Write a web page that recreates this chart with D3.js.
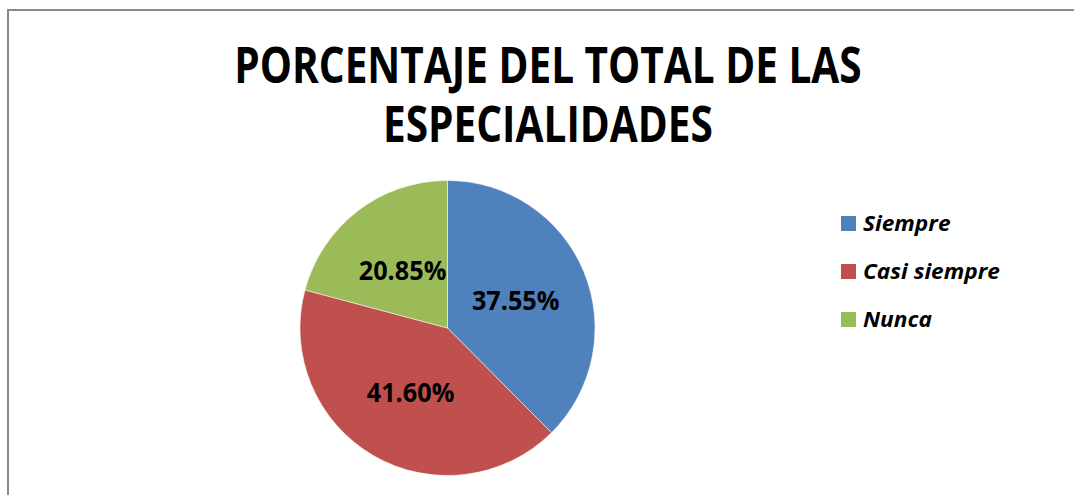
<!DOCTYPE html>
<html>
<head>
<meta charset="utf-8">
<script src="https://cdn.jsdelivr.net/npm/d3@7"></script>
<style>
	html, body { margin: 0; padding: 0; background: #fff; }
	svg { display: block; }
</style>
</head>
<body>
<div id="chart"></div>
<script>
	// Data
	var categories = ['Siempre', 'Casi siempre', 'Nunca'];
	var values = [37.55, 41.60, 20.85];
	var colors = ['#4F81BD', '#C0504D', '#9BBB59'];
	var titleLines = ['PORCENTAJE DEL TOTAL DE LAS', 'ESPECIALIDADES'];

	var width = 1074, height = 495;

	var svg = d3.select('#chart')
		.append('svg')
		.attr('width', width)
		.attr('height', height);

	// Calibri-like narrow look: squeeze text horizontally
	function condense(sel, k) {
		sel.each(function() {
			var w = this.getComputedTextLength();
			d3.select(this)
				.attr('textLength', w * k)
				.attr('lengthAdjust', 'spacingAndGlyphs');
		});
	}

	// Chart border
	svg.append('rect')
		.attr('x', 8)
		.attr('y', 10)
		.attr('width', width + 20)
		.attr('height', height + 20)
		.attr('fill', 'none')
		.attr('stroke', '#8a8a8a')
		.attr('stroke-width', 2);

	// Title (one text, two lines)
	svg.append('text')
		.attr('text-anchor', 'middle')
		.attr('font-family', 'Open Sans')
		.attr('font-weight', 'bold')
		.attr('font-size', 51)
		.attr('fill', '#000')
		.selectAll('tspan')
		.data(titleLines)
		.enter().append('tspan')
			.attr('x', 548)
			.attr('y', function(d, i) { return 83 + i * 59; })
			.text(function(d) { return d; })
			.call(condense, 0.795);

	// Pie
	var radius = 147.5;
	var pie = d3.pie().sort(null).value(function(d) { return d; });
	var arc = d3.arc().innerRadius(0).outerRadius(radius);

	var cont = svg.append('g')
		.attr('transform', 'translate(447.5,328)');

	var slices = cont.selectAll('.slice')
		.data(pie(values))
		.enter().append('g')
			.attr('class', 'slice');

	slices.append('path')
		.attr('d', arc)
		.attr('fill', function(d, i) { return colors[i]; })
		.attr('stroke', '#fff')
		.attr('stroke-width', 0.5);

	slices.append('text')
		.attr('transform', function(d) { return 'translate(' + arc.centroid(d) + ')'; })
		.attr('dy', '0.4em')
		.attr('text-anchor', 'middle')
		.attr('font-family', 'Open Sans')
		.attr('font-weight', 'bold')
		.attr('font-size', 26)
		.attr('fill', '#000')
		.text(function(d) { return d.data.toFixed(2) + '%'; })
		.call(condense, 0.97);

	// Legend
	var legend = svg.append('g')
		.attr('transform', 'translate(841,216)');

	var items = legend.selectAll('.item')
		.data(categories)
		.enter().append('g')
			.attr('class', 'item')
			.attr('transform', function(d, i) { return 'translate(0,' + (i * 48) + ')'; });

	items.append('rect')
		.attr('width', 15)
		.attr('height', 15)
		.attr('fill', function(d, i) { return colors[i]; });

	items.append('text')
		.attr('x', 22)
		.attr('y', 15)
		.attr('font-family', 'Open Sans')
		.attr('font-weight', 'bold')
		.attr('font-style', 'italic')
		.attr('font-size', 22)
		.attr('fill', '#000')
		.text(function(d) { return d; })
		.call(condense, 1.03);
</script>
</body>
</html>
